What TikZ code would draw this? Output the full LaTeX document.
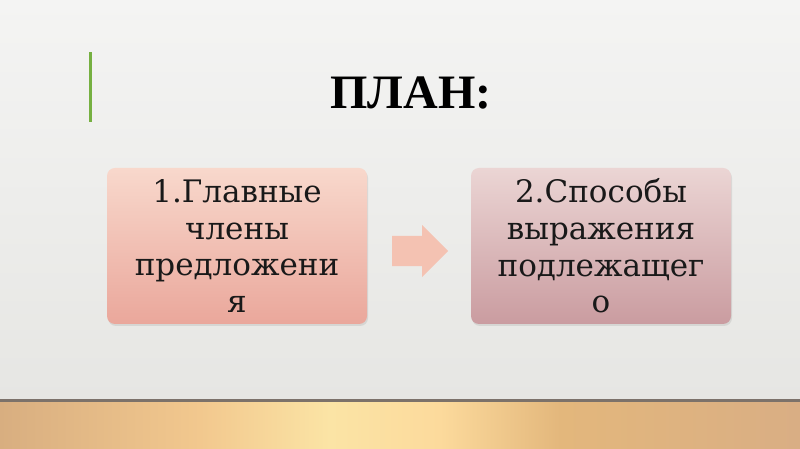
\documentclass[tikz,border=0pt]{standalone}
\usepackage{fontspec}
\setmainfont{DejaVu Serif}
\newfontfamily\titlefont{Liberation Serif}
\usetikzlibrary{positioning,shapes.arrows,shadows}

\definecolor{slidetop}{HTML}{F4F4F3}
\definecolor{slidebot}{HTML}{E6E6E3}
\definecolor{barline}{HTML}{76B041}
\definecolor{pinktop}{HTML}{F8D8CC}
\definecolor{pinkbot}{HTML}{EAA79B}
\definecolor{rosetop}{HTML}{EBD5D4}
\definecolor{rosebot}{HTML}{CA9CA0}
\definecolor{arrowfill}{HTML}{F4C2B2}
\definecolor{woodedge}{HTML}{7C726A}
\definecolor{woodA}{HTML}{D8AE80}
\definecolor{woodB}{HTML}{F2C88E}
\definecolor{woodC}{HTML}{FBE4A5}
\definecolor{woodD}{HTML}{FCDA9C}
\definecolor{woodE}{HTML}{E3B77C}
\definecolor{woodF}{HTML}{D9AE84}
% path box is mapped onto 25bp..75bp
\pgfdeclarehorizontalshading{wood}{100bp}{%
  color(0bp)=(woodA); color(25bp)=(woodA); color(37.5bp)=(woodB);
  color(45.6bp)=(woodC); color(52.5bp)=(woodD); color(60bp)=(woodE);
  color(75bp)=(woodF); color(100bp)=(woodF)}

\tikzset{
  planbox/.style={rounded corners=8pt, minimum width=260pt, minimum height=156pt,
    align=center, inner sep=0pt, text=black!90,
    font=\fontsize{31}{36.7}\selectfont,
    drop shadow={opacity=0.18, shadow xshift=1pt, shadow yshift=-2pt}},
  steparrow/.style={single arrow, fill=arrowfill, minimum height=56pt,
    single arrow head extend=11pt, inner sep=0pt, single arrow tip angle=90}
}

\begin{document}
\begin{tikzpicture}[x=1pt,y=1pt]
  \useasboundingbox (0,0) rectangle (800,449);
  % slide background
  \shade[top color=slidetop, bottom color=slidebot] (0,48) rectangle (800,449);
  \shade[shading=wood] (0,0) rectangle (800,48);
  \fill[woodedge] (0,47) rectangle (800,49.5);
  % accent bar and title
  \fill[barline] (89,327) rectangle (91.5,397);
  \node (title) at (411,356) {\titlefont\bfseries\fontsize{48}{50}\selectfont ПЛАН:};
  % the two steps
  \node[planbox, top color=pinktop, bottom color=pinkbot] (first) at (237,203)
    {1.Главные\\члены\\предложени\\я};
  \node[planbox, top color=rosetop, bottom color=rosebot] (second) at (601,203)
    {2.Способы\\выражения\\подлежащег\\о};
  \node[steparrow, anchor=west] (arrow) at (392,198) {\rule{0pt}{30pt}};
\end{tikzpicture}
\end{document}
